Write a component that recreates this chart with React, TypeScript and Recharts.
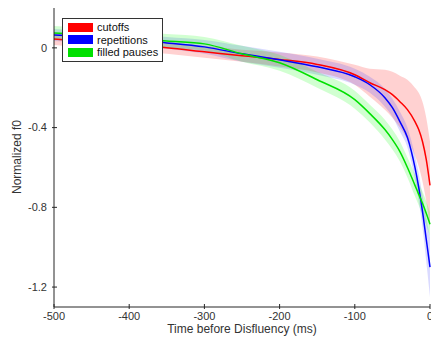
import React from 'react';
import { ComposedChart, Line, Area, XAxis, YAxis, Legend } from 'recharts';

// 시간축 (ms, 비유창성 이전)
const times = [-500, -450, -400, -350, -300, -250, -200, -150, -100, -80, -60, -50, -40, -30, -20, -15, -10, -5, 0];

// 평균 곡선
const cutoffs = [0.045, 0.03, 0.015, 0.0, -0.02, -0.04, -0.058, -0.083, -0.135, -0.175, -0.21, -0.235, -0.27, -0.31, -0.37, -0.41, -0.47, -0.56, -0.69];
const repetitions = [0.065, 0.055, 0.04, 0.025, 0.005, -0.03, -0.06, -0.095, -0.145, -0.185, -0.25, -0.3, -0.37, -0.45, -0.6, -0.7, -0.82, -0.96, -1.1];
const filledPauses = [0.075, 0.065, 0.05, 0.035, 0.02, -0.03, -0.075, -0.16, -0.26, -0.33, -0.41, -0.46, -0.52, -0.6, -0.69, -0.735, -0.78, -0.83, -0.885];

// 신뢰구간 반폭
const cutoffsErr = [0.03, 0.03, 0.03, 0.03, 0.03, 0.03, 0.035, 0.04, 0.05, 0.07, 0.1, 0.115, 0.13, 0.15, 0.17, 0.185, 0.2, 0.21, 0.22];
const repetitionsErr = [0.03, 0.03, 0.03, 0.03, 0.035, 0.04, 0.04, 0.04, 0.04, 0.04, 0.045, 0.045, 0.05, 0.05, 0.06, 0.07, 0.08, 0.11, 0.15];
const filledPausesErr = [0.035, 0.035, 0.035, 0.035, 0.035, 0.04, 0.04, 0.04, 0.045, 0.045, 0.05, 0.05, 0.05, 0.05, 0.055, 0.055, 0.06, 0.06, 0.06];

const xTicks = [-500, -400, -300, -200, -100, 0];
const yTicks = [-1.2, -0.8, -0.4, 0];

const SERIES = [
  { key: 'cutoffs', name: 'cutoffs', color: '#ff0000', band: '#ff0000' },
  { key: 'repetitions', name: 'repetitions', color: '#0000ff', band: '#3333ff' },
  { key: 'filledPauses', name: 'filled pauses', color: '#00e000', band: '#00ff00' },
];

const data = times.map((t, i) => ({
  t,
  cutoffs: cutoffs[i],
  repetitions: repetitions[i],
  filledPauses: filledPauses[i],
  cutoffsBand: [cutoffs[i] - cutoffsErr[i], cutoffs[i] + cutoffsErr[i]],
  repetitionsBand: [repetitions[i] - repetitionsErr[i], repetitions[i] + repetitionsErr[i]],
  filledPausesBand: [filledPauses[i] - filledPausesErr[i], filledPauses[i] + filledPausesErr[i]],
}));

const FONT = '"Liberation Sans", Arial, sans-serif';
const AXIS = '#262626';

const XTick = ({ x, y, payload }: any) => (
  <g>
    <line x1={x} y1={y} x2={x} y2={y - 5} stroke={AXIS} strokeWidth={1} />
    <text x={x} y={y + 3} dy="0.71em" textAnchor="middle" fill="#333" fontSize={11} fontFamily={FONT}>
      {payload.value}
    </text>
  </g>
);

const YTick = ({ x, y, payload }: any) => (
  <g>
    <line x1={x} y1={y} x2={x + 5} y2={y} stroke={AXIS} strokeWidth={1} />
    <text x={x - 5} y={y} dy="0.35em" textAnchor="end" fill="#333" fontSize={11} fontFamily={FONT}>
      {payload.value}
    </text>
  </g>
);

const LegendBox = () => (
  <div
    style={{
      border: '1px solid #333',
      background: '#fff',
      padding: '2px 4px 2px 5px',
      fontFamily: FONT,
      fontSize: 11,
      lineHeight: '12.5px',
      color: '#111',
    }}
  >
    {SERIES.map((s) => (
      <div key={s.key} style={{ display: 'flex', alignItems: 'center' }}>
        <span style={{ display: 'inline-block', width: 25, height: 9, background: s.color, marginRight: 4 }} />
        <span>{s.name}</span>
      </div>
    ))}
  </div>
);

export default function App() {
  return (
    <div style={{ position: 'absolute', left: 0, top: 0, width: 431, height: 337, overflow: 'hidden', background: '#fff' }}>
      <style>{'html,body{margin:0;overflow:hidden}'}</style>
      <ComposedChart width={446} height={337} data={data} margin={{ top: 8, right: 16, left: 0, bottom: 0 }}>
        <XAxis
          dataKey="t"
          type="number"
          domain={[-500, 0]}
          ticks={xTicks}
          stroke={AXIS}
          tickLine={false}
          tickSize={0}
          tick={<XTick />}
          height={30}
          label={() => (
            <text x={242} y={333} textAnchor="middle" fill="#333" fontSize={12} fontFamily={FONT}>
              Time before Disfluency (ms)
            </text>
          )}
        />
        <YAxis
          type="number"
          domain={[-1.3, 0.2]}
          ticks={yTicks}
          stroke={AXIS}
          tickLine={false}
          tickSize={0}
          tick={<YTick />}
          width={54}
          label={() => (
            <text x={21} y={157} transform="rotate(-90 21 157)" textAnchor="middle" fill="#333" fontSize={12} fontFamily={FONT}>
              Normalized f0
            </text>
          )}
        />
        {SERIES.map((s) => (
          <Area
            key={s.key + 'Band'}
            dataKey={s.key + 'Band'}
            type="monotone"
            stroke="none"
            fill={s.band}
            fillOpacity={0.18}
            isAnimationActive={false}
          />
        ))}
        {SERIES.map((s) => (
          <Line
            key={s.key}
            dataKey={s.key}
            type="monotone"
            stroke={s.color}
            strokeWidth={1.5}
            dot={false}
            isAnimationActive={false}
          />
        ))}
        <Legend
          layout="vertical"
          align="center"
          verticalAlign="middle"
          content={<LegendBox />}
          wrapperStyle={{ top: 18, left: 62, width: 'auto', right: 'auto', bottom: 'auto' }}
        />
      </ComposedChart>
    </div>
  );
}
